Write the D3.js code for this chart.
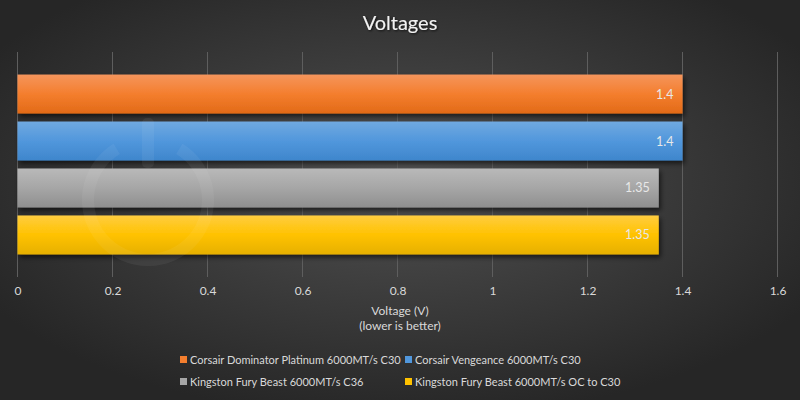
<!DOCTYPE html>
<html><head><meta charset="utf-8">
<script src="https://cdn.jsdelivr.net/npm/d3@7"></script>
<style>html,body{margin:0;padding:0;background:#2a2a2a;}svg{display:block;}</style>
</head><body>
<svg id="chart" width="800" height="400"></svg>
<script>
const categories = ["Corsair Dominator Platinum 6000MT/s C30","Corsair Vengeance 6000MT/s C30","Kingston Fury Beast 6000MT/s C36","Kingston Fury Beast 6000MT/s OC to C30"];
const values = [1.4, 1.4, 1.35, 1.35];
const valueLabels = ["1.4","1.4","1.35","1.35"];
const tickValues = [0,0.2,0.4,0.6,0.8,1,1.2,1.4,1.6];
const colors = [
  ["#f5955c","#f47e2e","#e26a17"],
  ["#70a9e0","#5197dc","#3f86cc"],
  ["#b9b9b9","#a6a6a6","#8f8f8f"],
  ["#ffcd40","#ffc200","#e6b000"]
];
const title = "Voltages";
const axisTitle = ["Voltage (V)","(lower is better)"];

const svg = d3.select("#chart");
const W=800,H=400;
const FONT = "Lato, 'Open Sans', sans-serif";
const defs = svg.append("defs");
const bg = defs.append("radialGradient").attr("id","bg").attr("cx","50%").attr("cy","45%").attr("r","60%");
bg.append("stop").attr("offset","0%").attr("stop-color","#515151");
bg.append("stop").attr("offset","100%").attr("stop-color","#262626");
svg.append("rect").attr("width",W).attr("height",H).attr("fill","url(#bg)");

colors.forEach((c,i)=>{
  const g = defs.append("linearGradient").attr("id","g"+i).attr("x1",0).attr("y1",0).attr("x2",0).attr("y2",1);
  g.append("stop").attr("offset","0%").attr("stop-color",c[0]);
  g.append("stop").attr("offset","50%").attr("stop-color",c[1]);
  g.append("stop").attr("offset","100%").attr("stop-color",c[2]);
});
const sh = defs.append("filter").attr("id","sh").attr("x","-5%").attr("y","-20%").attr("width","110%").attr("height","160%");
sh.append("feDropShadow").attr("dx",2).attr("dy",3).attr("stdDeviation",2.5).attr("flood-color","#000").attr("flood-opacity",0.6);
const tsh = defs.append("filter").attr("id","tsh");
tsh.append("feDropShadow").attr("dx",1).attr("dy",1).attr("stdDeviation",1).attr("flood-color","#000").attr("flood-opacity",0.7);

const x = d3.scaleLinear().domain([0,1.6]).range([17.5,777.5]);
const y = d3.scaleBand().domain(categories).range([52,277]).paddingInner(0.17).paddingOuter(0.48);

// gridlines
svg.append("g").selectAll("line").data(tickValues).join("line")
  .attr("x1",d=>x(d)).attr("x2",d=>x(d)).attr("y1",52).attr("y2",277)
  .attr("stroke","#5e5e5e").attr("stroke-width",1);

// title
svg.append("text").attr("x",W/2).attr("y",30).attr("text-anchor","middle")
  .attr("font-family",FONT).attr("font-size",20).attr("fill","#f2f2f2")
  .attr("filter","url(#tsh)").text(title);

// bars
svg.append("g").selectAll("rect").data(categories).join("rect")
  .attr("x",x(0)).attr("y",d=>y(d)).attr("width",(d,i)=>x(values[i])-x(0)).attr("height",y.bandwidth())
  .attr("fill",(d,i)=>`url(#g${i})`).attr("filter","url(#sh)");

// value labels
svg.append("g").selectAll("text").data(categories).join("text")
  .attr("x",(d,i)=>x(values[i])-9).attr("y",d=>y(d)+y.bandwidth()/2+4.5)
  .attr("text-anchor","end").attr("font-family",FONT).attr("font-size",12.5)
  .attr("fill","#e8e8e8").text((d,i)=>valueLabels[i]);

// watermark (icon only)
const wm = svg.append("g").attr("opacity",0.05);
wm.append("path").attr("d",d3.arc()({innerRadius:54,outerRadius:66,startAngle:0.55,endAngle:2*Math.PI-0.55}))
  .attr("transform","translate(148,200)").attr("fill","#ffffff");
wm.append("rect").attr("x",142).attr("y",118).attr("width",12).attr("height",50).attr("rx",5).attr("fill","#ffffff");

// axis
const xAxis = d3.axisBottom(x).tickValues(tickValues).tickSize(0).tickPadding(0).tickFormat(d3.format("~g"));
const ax = svg.append("g").attr("transform","translate(0,286)").call(xAxis);
ax.select(".domain").remove();
ax.selectAll("text").attr("font-family",FONT).attr("font-size",12).attr("fill","#d9d9d9").attr("dy","0.71em");

svg.append("text").attr("x",W/2).attr("y",315).attr("text-anchor","middle")
  .attr("font-family",FONT).attr("font-size",12).attr("fill","#d9d9d9").text(axisTitle[0]);
svg.append("text").attr("x",W/2).attr("y",330).attr("text-anchor","middle")
  .attr("font-family",FONT).attr("font-size",12).attr("fill","#d9d9d9").text(axisTitle[1]);

// legend
const legPos = [[180,360],[405,360],[180,382],[405,382]];
const leg = svg.append("g").selectAll("g").data(categories).join("g")
  .attr("transform",(d,i)=>`translate(${legPos[i][0]},${legPos[i][1]})`);
leg.append("rect").attr("x",0).attr("y",-4).attr("width",7).attr("height",7).attr("fill",(d,i)=>colors[i][1]);
leg.append("text").attr("x",10).attr("y",4).attr("font-family",FONT).attr("font-size",11)
  .attr("fill","#d9d9d9").text(d=>d);
</script>
</body></html>
